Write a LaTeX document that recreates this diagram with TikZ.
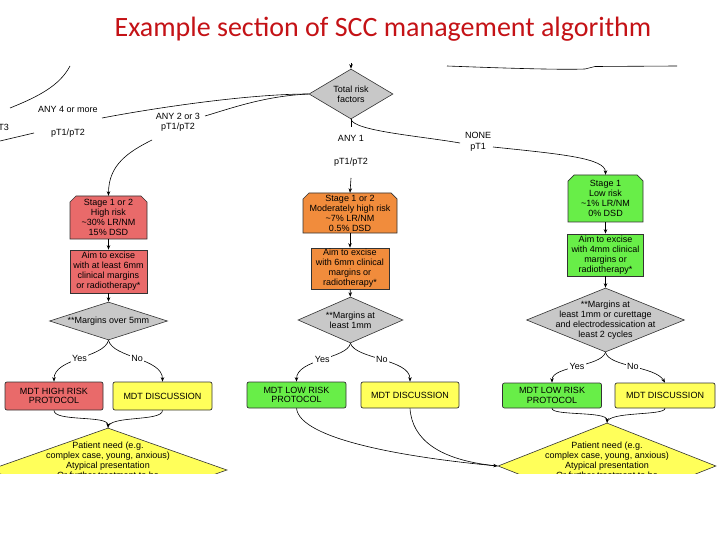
\documentclass[tikz,border=0pt]{standalone}
\usepackage{fontspec}
\setmainfont{Liberation Sans}
\newfontfamily\titlefont{Carlito}
\usetikzlibrary{arrows.meta,shapes.geometric}
\definecolor{boxred}{RGB}{233,106,106}
\definecolor{boxorange}{RGB}{241,140,60}
\definecolor{boxgreen}{RGB}{104,238,72}
\definecolor{boxyellow}{RGB}{255,255,90}
\definecolor{diagray}{RGB}{200,200,200}
\definecolor{titlered}{RGB}{196,18,22}
\tikzset{
  arr/.style={-{Stealth[length=4.5pt,width=3.5pt]}, line width=0.6pt},
  con/.style={line width=0.6pt},
  txt/.style={font=\fontsize{9}{10}\selectfont, align=center, inner sep=1pt},
  rbox/.style={txt, draw=black!80, line width=0.7pt, inner sep=0pt},
  mdt/.style={rbox, rounded corners=2pt, font=\fontsize{9}{9.5}\selectfont},
  dia/.style={diamond, draw=black!80, line width=0.6pt, inner sep=0pt, fill=diagray},
  ydia/.style={diamond, draw=black!80, line width=0.6pt, inner sep=0pt, fill=boxyellow},
  lblw/.style={txt, fill=white, inner sep=1.5pt},
  titlestyle/.style={font=\titlefont\fontsize{28}{34}\selectfont, text=titlered, inner sep=0pt},
}
% chamfered stage box: x1, ytop, x2, ybottom, colour
\newcommand\chambox[5]{\filldraw[fill=#5, draw=black!80, line width=0.7pt]
  (#1,#4) -- (#1,{#2+6}) -- ({#1+6},#2) -- ({#3-6},#2) -- (#3,{#2+6}) -- (#3,#4) -- cycle;}
\begin{document}
\begin{tikzpicture}[x=1pt,y=-1pt]
\useasboundingbox (0,0) rectangle (720,540);
\node[titlestyle] (title) at (383,29.5) {Example section of SCC management algorithm};
\begin{scope}
\clip (0,55) rectangle (720,473);
% ---- top fragments
\coordinate (tl1) at (447,66);
\coordinate (tl2) at (677,66);
\draw[con] (tl1) .. controls (500,68) and (560,70) .. (585,69) .. controls (590,68.5) .. (595,66.5) -- (tl2);
% ---- total risk factors
\node[dia, minimum width=84pt, minimum height=50pt] (tot) at (351,94) {};
\node[txt] (totT) at (tot) {Total risk\\factors};
\coordinate (tin) at (351,63);
\draw[arr] (tin) -- (tot.north);
% ---- left fragments
\coordinate (lf1) at (10,108);
\coordinate (lf2) at (70,66);
\draw[con] (lf1) .. controls (40,96) and (60,85) .. (lf2);
\coordinate (lf3) at (0,141);
\coordinate (lf4) at (34,133);
\draw[con] (lf3) -- (lf4);
\node[txt, anchor=east] (pt3) at (10,128) {pT3};
\node[txt] (any4) at (68,109) {ANY 4 or more};
\node[txt] (any4b) at (68,133) {pT1/pT2};
\coordinate (c4) at (102,118);
\draw[con] (tot.west) .. controls (250,94) and (160,107) .. (c4);
% ---- ANY 2 or 3
\node[txt] (any23) at (178,116) {ANY 2 or 3};
\node[txt] (any23b) at (178,127) {pT1/pT2};
\coordinate (c23a) at (205,116);
\coordinate (c23b) at (152,140);
\draw[con] (tot.west) .. controls (265,96) and (232,108) .. (c23a);
% ---- ANY 1
\node[txt] (any1) at (351,138) {ANY 1};
\node[txt] (any1b) at (351,162) {pT1/pT2};
\coordinate (c1a) at (351,127);
\coordinate (c1b) at (351,178);
\draw[con] (tot.south) -- (c1a);
% ---- NONE
\node[txt] (none) at (478,135) {NONE};
\node[txt] (noneb) at (478,147) {pT1};
\coordinate (c0a) at (460,143);
\coordinate (c0b) at (493,147);
\draw[con] (tot.south) .. controls (354,131) and (420,136) .. (c0a);

% ================= left column (red)
\chambox{70}{196}{147}{239}{boxred}
\node[txt, minimum width=77pt, minimum height=43pt] (stA) at (108.5,217.5) {Stage 1 or 2\\High risk\\\textasciitilde30\% LR/NM\\15\% DSD};
\node[rbox, fill=boxred, minimum width=77pt, minimum height=43pt] (aimA) at (108.5,271.5) {Aim to excise\\with at least 6mm\\clinical margins\\or radiotherapy*};
\node[dia, minimum width=118pt, minimum height=38pt] (dA) at (108.5,321) {};
\node[txt] (dAT) at (dA) {**Margins over 5mm};
\draw[arr] (c23b) .. controls (128,152) and (108.5,165) .. (stA.north);
\draw[arr] (stA) -- (aimA);
\draw[arr] (aimA) -- (dA);
\node[mdt, fill=boxred, minimum width=98pt, minimum height=28pt] (hrA) at (54,396) {MDT HIGH RISK\\PROTOCOL};
\node[mdt, fill=boxyellow, minimum width=99pt, minimum height=28pt] (dsA) at (162.5,396) {MDT DISCUSSION};
\draw[arr] (dA.south) .. controls (104,358) and (54,358) .. node[lblw] (yA) {Yes} (hrA.north);
\draw[arr] (dA.south) .. controls (113,358) and (162.5,358) .. node[lblw] (nA) {No} (dsA.north);
\node[ydia, minimum width=238pt, minimum height=84pt] (pnA) at (108,470) {};
\node[txt, anchor=north] (pnAT) at (108,441) {Patient need (e.g.\\complex case, young, anxious)\\Atypical presentation\\Or further treatment to be};
\draw[con] (dsA.south) .. controls (162.5,422) and (108,415) .. (pnA.north);
\draw[arr] (hrA.south) .. controls (54,422) and (108,415) .. (pnA.north);

% ================= middle column (orange)
\chambox{303}{193}{397}{233}{boxorange}
\node[txt, minimum width=94pt, minimum height=40pt] (stB) at (350,213) {Stage 1 or 2\\Moderately high risk\\\textasciitilde7\% LR/NM\\0.5\% DSD};
\node[rbox, fill=boxorange, minimum width=78pt, minimum height=41pt] (aimB) at (350,268.5) {Aim to excise\\with 6mm clinical\\margins or\\radiotherapy*};
\node[dia, minimum width=105pt, minimum height=46pt] (dB) at (350.5,320) {};
\node[txt] (dBT) at (dB) {**Margins at\\least 1mm};
\draw[arr] (c1b) -- (stB.north);
\draw[arr] (stB) -- (aimB);
\draw[arr] (aimB) -- (dB);
\node[mdt, fill=boxgreen, minimum width=99pt, minimum height=26pt] (lmB) at (296.5,395) {MDT LOW RISK\\PROTOCOL};
\node[mdt, fill=boxyellow, minimum width=98pt, minimum height=26pt] (dsB) at (410,395) {MDT DISCUSSION};
\draw[arr] (dB.south) .. controls (347,359) and (296.5,359) .. node[lblw] (yB) {Yes} (lmB.north);
\draw[arr] (dB.south) .. controls (355,359) and (410,359) .. node[lblw] (nB) {No} (dsB.north);

% ================= right column (green)
\chambox{568}{175}{643}{222}{boxgreen}
\node[txt, minimum width=75pt, minimum height=47pt] (stC) at (605.5,198.5) {Stage 1\\Low risk\\\textasciitilde1\% LR/NM\\0\% DSD};
\node[rbox, fill=boxgreen, minimum width=76pt, minimum height=42pt] (aimC) at (605.5,255) {Aim to excise\\with 4mm clinical\\margins or\\radiotherapy*};
\node[dia, minimum width=158pt, minimum height=64pt] (dC) at (605.5,320) {};
\node[txt] (dCT) at (dC) {**Margins at\\least 1mm or curettage\\and electrodessication at\\least 2 cycles};
\draw[arr] (c0b) .. controls (560,154) and (605.5,158) .. (stC.north);
\draw[arr] (stC) -- (aimC);
\draw[arr] (aimC) -- (dC);
\node[mdt, fill=boxgreen, minimum width=99pt, minimum height=25pt] (lrC) at (552,395.5) {MDT LOW RISK\\PROTOCOL};
\node[mdt, fill=boxyellow, minimum width=100pt, minimum height=25pt] (dsC) at (665,395.5) {MDT DISCUSSION};
\draw[arr] (dC.south) .. controls (601,367) and (552,366) .. node[lblw] (yC) {Yes} (lrC.north);
\draw[arr] (dC.south) .. controls (609,367) and (655,366) .. node[lblw] (nC) {No} (dsC.north);
\node[ydia, minimum width=218pt, minimum height=86pt] (pnC) at (607,466) {};
\node[txt, anchor=north] (pnCT) at (607,441) {Patient need (e.g.\\complex case, young, anxious)\\Atypical presentation\\Or further treatment to be};
\draw[con] (dsC.south) .. controls (665,416) and (607,411) .. (pnC.north);
\draw[arr] (lrC.south) .. controls (552,416) and (607,411) .. (pnC.north);
% middle outputs to right big diamond
\draw[con] (lmB.south) .. controls (300,440) and (410,458) .. (pnC.west);
\draw[arr] (dsB.south) .. controls (412,440) and (440,460) .. (pnC.west);
\end{scope}
\end{tikzpicture}
\end{document}
